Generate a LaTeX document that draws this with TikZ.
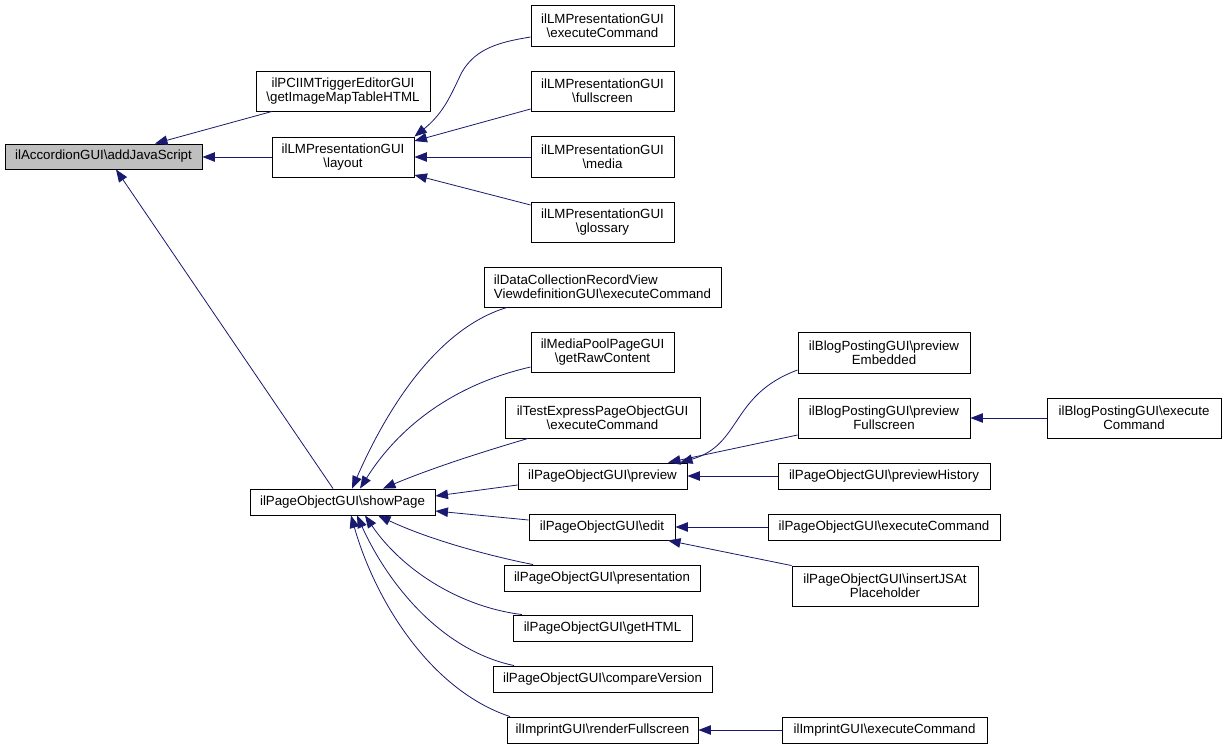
\documentclass[tikz,border=0pt]{standalone}
\usepackage{fontspec}
\setmainfont{Liberation Sans}
\usetikzlibrary{arrows.meta}
\definecolor{navyedge}{HTML}{191970}
\definecolor{hlgray}{HTML}{BFBFBF}
\newcommand{\mkbox}[7]{\node[box,#7,minimum width={#4pt-#2pt},minimum height={#5pt-#3pt}] (#1) at ({(#2+#4)/2},{(#3+#5)/2}) {#6};}
\newcommand{\bs}{\textbackslash}
\begin{document}
\begin{tikzpicture}[x=1pt,y=-1pt,
  box/.style={draw=black, line width=0.9pt, fill=white, inner sep=0pt, align=center,
    font=\fontsize{13.3}{13.6}\selectfont},
  conn/.style={draw=navyedge, line width=0.8pt, {Triangle[length=12.5pt,width=9.5pt,fill=navyedge]}-}]
\fill[white] (0,0) rectangle (1225,749);
\useasboundingbox (0,0) rectangle (1225,749);
% nodes
\mkbox{A}{5}{144}{202}{169}{ilAccordionGUI\bs addJavaScript}{fill=hlgray}
\mkbox{B}{256}{71}{430}{111}{ilPCIIMTriggerEditorGUI\\\bs getImageMapTableHTML}{}
\mkbox{L}{272}{137}{414}{177}{ilLMPresentationGUI\\\bs layout}{}
\mkbox{LMa}{531}{5}{674}{46}{ilLMPresentationGUI\\\bs executeCommand}{}
\mkbox{LMb}{531}{71}{674}{111}{ilLMPresentationGUI\\\bs fullscreen}{}
\mkbox{LMc}{531}{136}{674}{177}{ilLMPresentationGUI\\\bs media}{}
\mkbox{LMd}{531}{202}{674}{242}{ilLMPresentationGUI\\\bs glossary}{}
\mkbox{DC}{484}{267}{721}{307}{ilDataCollectionRecordView\\ViewdefinitionGUI\bs executeCommand}{align=left}
\mkbox{MP}{531}{332}{674}{372}{ilMediaPoolPageGUI\\\bs getRawContent}{}
\mkbox{TE}{505}{397}{700}{438}{ilTestExpressPageObjectGUI\\\bs executeCommand}{}
\mkbox{PV}{518}{463}{687}{489}{ilPageObjectGUI\bs preview}{}
\mkbox{S}{250}{489}{435}{515}{ilPageObjectGUI\bs showPage}{}
\mkbox{ED}{529}{514}{675}{540}{ilPageObjectGUI\bs edit}{}
\mkbox{PR}{504}{565}{700}{591}{ilPageObjectGUI\bs presentation}{}
\mkbox{GH}{513}{615}{692}{641}{ilPageObjectGUI\bs getHTML}{}
\mkbox{CV}{493}{666}{712}{692}{ilPageObjectGUI\bs compareVersion}{}
\mkbox{IR}{507}{717}{698}{743}{ilImprintGUI\bs renderFullscreen}{}
\mkbox{BE}{798}{332}{970}{373}{ilBlogPostingGUI\bs preview\\Embedded}{}
\mkbox{BF}{798}{398}{970}{438}{ilBlogPostingGUI\bs preview\\Fullscreen}{}
\mkbox{BC}{1047}{398}{1221}{438}{ilBlogPostingGUI\bs execute\\Command}{}
\mkbox{PH}{778}{463}{990}{489}{ilPageObjectGUI\bs previewHistory}{}
\mkbox{PE}{768}{514}{1000}{540}{ilPageObjectGUI\bs executeCommand}{}
\mkbox{PI}{792}{566}{978}{606}{ilPageObjectGUI\bs insertJSAt\\Placeholder}{}
\mkbox{IE}{782}{717}{987}{743}{ilImprintGUI\bs executeCommand}{}
% connectors
\draw[conn] (A.north -| 155,0) -- (B.south -| 272,0);
\draw[conn] (A.east |- 0,157) -- (L.west |- 0,157);
\draw[conn] (A.south -| 116,0) -- (S.north -| 333,0);
\draw[conn] (L.north east) .. controls (445,112) and (452,92) .. (462,72) .. controls (476,48) and (500,42) .. (LMa.west |- 0,37);
\draw[conn] (L.east |- 0,141) -- (LMb.west |- 0,109);
\draw[conn] (L.east |- 0,157) -- (LMc.west |- 0,157);
\draw[conn] (L.east |- 0,175) -- (LMd.west |- 0,205);
\draw[conn] (S.north -| 352,0) .. controls (382,420) and (432,330) .. (DC.south -| 507,0);
\draw[conn] (S.north -| 360,0) .. controls (398,428) and (452,385) .. (MP.west |- 0,367);
\draw[conn] (S.north -| 383,0) .. controls (432,468) and (482,452) .. (TE.south -| 528,0);
\draw[conn] (S.east |- 0,496) -- (PV.west |- 0,485);
\draw[conn] (S.east |- 0,511) -- (ED.west |- 0,520);
\draw[conn] (S.south -| 378,0) .. controls (430,540) and (490,556) .. (PR.north -| 533,0);
\draw[conn] (S.south -| 365,0) .. controls (402,570) and (460,607) .. (GH.north -| 522,0);
\draw[conn] (S.south -| 357,0) .. controls (387,582) and (440,650) .. (CV.north -| 514,0);
\draw[conn] (S.south -| 351,0) .. controls (375,600) and (430,690) .. (IR.north -| 510,0);
\draw[conn] (PV.north -| 680,0) .. controls (742,445) and (730,395) .. (BE.west |- 0,370);
\draw[conn] (PV.north -| 668,0) -- (BF.west |- 0,435);
\draw[conn] (PV.east |- 0,476) -- (PH.west |- 0,476);
\draw[conn] (ED.east |- 0,527) -- (PE.west |- 0,527);
\draw[conn] (ED.south -| 668,0) -- (PI.north west);
\draw[conn] (BF.east |- 0,418) -- (BC.west |- 0,418);
\draw[conn] (IR.east |- 0,730) -- (IE.west |- 0,730);
\end{tikzpicture}
\end{document}
